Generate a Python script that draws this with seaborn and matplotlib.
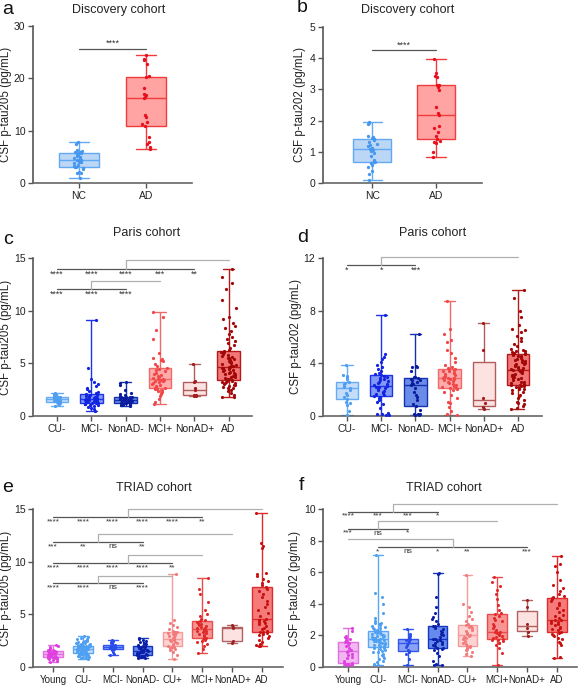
import numpy as np
import pandas as pd
import matplotlib
matplotlib.use("Agg")
import matplotlib.pyplot as plt
import seaborn as sns

sns.set_theme(style="ticks")
plt.rcParams["font.family"] = ["Liberation Sans", "DejaVu Sans"]
np.random.seed(3)

# ---------------- data ----------------
# panel a: Discovery cohort, p-tau205
a_groups = ["NC", "AD"]
a_NC = [0.9, 1.9, 2.0, 2.1, 2.6, 2.9, 3.0, 3.05, 3.3, 3.5, 3.8, 4.0, 4.1, 4.3, 4.45, 4.6, 4.8, 4.9, 5.2, 5.4,
        5.6, 5.66, 5.8, 5.9, 6.0, 6.1, 6.4, 7.4, 7.8]
a_AD = [6.5, 6.8, 7.4, 7.9, 8.8, 10.9, 11.2, 11.6, 12.6, 12.9, 16.2, 16.5, 16.8, 17.0, 18.2, 20.3, 20.5, 22.8,
        23.5, 23.7, 24.4]

# panel b: Discovery cohort, p-tau202
b_NC = [0.11, 0.28, 0.38, 0.50, 0.58, 0.64, 0.66, 0.68, 0.70, 0.73, 0.88, 0.95, 1.02, 1.05, 1.09, 1.12, 1.18,
        1.22, 1.25, 1.33, 1.38, 1.40, 1.42, 1.44, 1.47, 1.50, 1.88, 1.92, 1.94]
b_AD = [0.82, 1.00, 1.28, 1.32, 1.35, 1.40, 1.50, 1.62, 1.75, 1.82, 2.18, 2.25, 2.45, 2.98, 3.08, 3.13, 3.15,
        3.40, 3.42, 3.53, 3.97]

# panel c: Paris cohort, p-tau205
paris_groups = ["CU-", "MCI-", "NonAD-", "MCI+", "NonAD+", "AD"]
c_CUn = [0.95, 1.10, 1.15, 1.22, 1.30, 1.33, 1.40, 1.45, 1.50, 1.55, 1.58, 1.60, 1.62, 1.66, 1.72, 1.80, 1.85,
         1.90, 2.00, 2.10, 2.20]
c_MCIn = [0.50, 0.62, 0.80, 0.90, 0.98, 1.02, 1.08, 1.12, 1.15, 1.18, 1.20, 1.23, 1.28, 1.32, 1.38, 1.42, 1.46,
          1.50, 1.54, 1.57, 1.60, 1.62, 1.65, 1.68, 1.72, 1.75, 1.80, 1.84, 1.88, 1.92, 1.96, 2.00, 2.05, 2.09,
          2.15, 2.25, 2.40, 2.55, 2.70, 2.85, 3.00, 3.20, 3.55, 4.60, 9.10]
c_NonADn = [0.95, 1.00, 1.05, 1.08, 1.10, 1.13, 1.16, 1.19, 1.21, 1.23, 1.28, 1.32, 1.36, 1.40, 1.44, 1.47, 1.50,
            1.53, 1.55, 1.58, 1.60, 1.63, 1.66, 1.70, 1.73, 1.76, 1.78, 1.80, 1.85, 1.92, 2.00, 2.10, 2.20, 2.45,
            2.90, 3.15, 3.26]
c_MCIp = [1.14, 1.30, 1.60, 1.90, 2.10, 2.25, 2.35, 2.45, 2.55, 2.60, 2.65, 2.70, 2.78, 2.85, 2.95, 3.05, 3.12,
          3.20, 3.28, 3.35, 3.40, 3.45, 3.48, 3.55, 3.62, 3.70, 3.80, 3.90, 4.00, 4.10, 4.25, 4.40, 4.50, 4.60,
          4.75, 4.95, 5.20, 5.35, 5.45, 5.55, 6.00, 7.30, 8.20, 9.40, 9.90]
c_NonADp = [1.90, 1.92, 1.96, 2.00, 2.44, 2.62, 3.26, 3.30, 4.94]
c_AD = [1.77, 1.85, 2.00, 2.20, 2.35, 2.50, 2.62, 2.70, 2.78, 2.85, 2.92, 2.98, 3.05, 3.10, 3.15, 3.20, 3.25,
        3.30, 3.35, 3.39, 3.42, 3.48, 3.55, 3.62, 3.68, 3.75, 3.82, 3.88, 3.95, 4.00, 4.06, 4.12, 4.18, 4.25,
        4.32, 4.40, 4.48, 4.55, 4.60, 4.65, 4.68, 4.72, 4.78, 4.85, 4.92, 5.00, 5.08, 5.15, 5.22, 5.30, 5.38,
        5.46, 5.55, 5.62, 5.70, 5.78, 5.86, 5.95, 6.05, 6.12, 6.17, 6.30, 6.50, 6.70, 6.90, 7.10, 7.30, 7.50,
        7.80, 8.10, 8.40, 8.50, 8.80, 9.20, 9.40, 10.30, 11.00, 12.10, 12.60, 13.20, 14.00]

# panel d: Paris cohort, p-tau202
d_CUn = [0.08, 0.40, 0.80, 0.95, 1.10, 1.31, 1.45, 1.60, 1.75, 1.95, 2.10, 2.20, 2.30, 2.40, 2.50, 2.60, 2.80,
         2.95, 3.05, 3.10, 3.84]
d_MCIn = [0.08, 0.10, 0.12, 0.15, 0.20, 0.60, 0.90, 1.10, 1.25, 1.38, 1.46, 1.52, 1.60, 1.68, 1.75, 1.82, 1.90,
          1.98, 2.05, 2.12, 2.18, 2.23, 2.27, 2.35, 2.42, 2.50, 2.58, 2.66, 2.74, 2.82, 2.90, 2.98, 3.06, 3.13,
          3.20, 3.30, 3.45, 3.60, 3.75, 3.85, 4.10, 4.30, 4.50, 4.70, 7.68]
d_NonADn = [0.08, 0.08, 0.10, 0.12, 0.15, 0.18, 0.45, 0.73, 0.90, 1.20, 1.45, 1.60, 1.85, 2.10, 2.32, 2.40, 2.50,
            2.60, 2.70, 2.75, 2.82, 2.88, 2.95, 3.00, 3.40, 3.70, 3.75, 3.80, 6.26]
d_MCIp = [0.08, 0.15, 0.40, 0.70, 1.00, 1.10, 1.40, 1.60, 1.80, 1.95, 2.05, 2.10, 2.15, 2.22, 2.30, 2.38, 2.45,
          2.52, 2.60, 2.66, 2.72, 2.78, 2.82, 2.85, 2.88, 2.92, 2.98, 3.05, 3.12, 3.18, 3.25, 3.30, 3.38, 3.45,
          3.50, 3.55, 3.59, 3.65, 3.75, 3.90, 4.10, 4.40, 4.80, 5.00, 5.60, 5.80, 6.20, 6.60, 8.74]
d_NonADp = [0.56, 0.70, 1.00, 1.38, 5.00, 7.10]
d_AD = [0.56, 0.60, 0.75, 0.90, 1.00, 1.10, 1.25, 1.35, 1.50, 1.62, 1.75, 1.85, 1.95, 2.02, 2.08, 2.14, 2.20,
        2.25, 2.30, 2.34, 2.37, 2.42, 2.48, 2.55, 2.62, 2.70, 2.78, 2.85, 2.92, 2.98, 3.05, 3.10, 3.15, 3.20,
        3.26, 3.32, 3.38, 3.42, 3.46, 3.49, 3.51, 3.56, 3.62, 3.68, 3.74, 3.80, 3.86, 3.92, 3.98, 4.04, 4.10,
        4.16, 4.22, 4.28, 4.34, 4.40, 4.46, 4.52, 4.58, 4.64, 4.70, 4.75, 4.80, 4.85, 4.90, 4.95, 5.00, 5.10,
        5.30, 5.50, 5.70, 5.90, 6.10, 6.40, 6.50, 6.60, 6.90, 7.50, 8.00, 9.00, 9.57]

# panel e: TRIAD cohort, p-tau205
triad_groups = ["Young", "CU-", "MCI-", "NonAD-", "CU+", "MCI+", "NonAD+", "AD"]
e_Young = [0.47, 0.60, 0.68, 0.74, 0.78, 0.82, 0.85, 0.88, 0.90, 0.92, 0.95, 0.98, 1.02, 1.05, 1.08, 1.12, 1.15,
           1.18, 1.20, 1.23, 1.26, 1.30, 1.33, 1.37, 1.41, 1.45, 1.49, 1.52, 1.56, 1.60, 1.65, 1.70, 1.75, 1.80,
           1.88, 1.95, 2.06]
e_CUn = [0.76, 0.82, 0.88, 0.92, 0.96, 1.00, 1.04, 1.08, 1.11, 1.14, 1.17, 1.20, 1.22, 1.24, 1.26, 1.28, 1.29,
         1.30, 1.33, 1.36, 1.39, 1.42, 1.45, 1.48, 1.51, 1.54, 1.57, 1.60, 1.62, 1.64, 1.66, 1.68, 1.69, 1.70,
         1.71, 1.73, 1.75, 1.77, 1.79, 1.81, 1.83, 1.85, 1.87, 1.89, 1.91, 1.93, 1.95, 1.97, 1.99, 2.01, 2.02,
         2.03, 2.06, 2.10, 2.14, 2.18, 2.22, 2.26, 2.30, 2.35, 2.40, 2.45, 2.50, 2.55, 2.62, 2.70, 2.78, 2.88,
         2.97]
e_MCIn = [1.17, 1.20, 1.45, 1.60, 1.68, 1.71, 1.76, 1.82, 1.86, 1.90, 1.93, 1.96, 1.99, 2.03, 2.08, 2.12, 2.18,
          2.25, 2.35, 2.45, 2.53]
e_NonADn = [0.85, 0.88, 0.92, 0.95, 0.98, 1.02, 1.05, 1.08, 1.11, 1.14, 1.19, 1.24, 1.29, 1.34, 1.39, 1.44, 1.48,
            1.52, 1.55, 1.60, 1.65, 1.70, 1.75, 1.80, 1.86, 1.92, 1.98, 2.03, 2.08, 2.14, 2.20, 2.28, 2.36, 2.44,
            2.52, 2.62, 2.72]
e_CUp = [0.79, 1.10, 1.40, 1.60, 1.75, 1.85, 1.90, 1.93, 1.96, 2.05, 2.15, 2.25, 2.35, 2.45, 2.52, 2.60, 2.66,
         2.75, 2.85, 2.95, 3.05, 3.12, 3.18, 3.24, 3.29, 3.35, 3.45, 3.60, 3.80, 4.00, 4.20, 4.50, 8.80]
e_MCIp = [1.33, 1.70, 2.00, 2.20, 2.35, 2.48, 2.58, 2.66, 2.72, 2.78, 2.90, 3.00, 3.10, 3.20, 3.30, 3.38, 3.46,
          3.52, 3.58, 3.66, 3.74, 3.82, 3.90, 4.00, 4.10, 4.20, 4.30, 4.37, 4.45, 4.60, 4.85, 5.05, 5.40, 6.20,
          6.90, 7.40, 8.48]
e_NonADp = [2.25, 2.50, 3.70, 3.80, 4.02]
e_AD = [1.96, 2.00, 2.05, 2.20, 2.40, 2.60, 2.80, 2.95, 3.05, 3.15, 3.22, 3.29, 3.35, 3.45, 3.60, 3.75, 3.90,
        4.05, 4.15, 4.25, 4.35, 4.45, 4.52, 4.80, 5.10, 5.40, 5.70, 6.00, 6.30, 6.60, 6.90, 7.20, 7.45, 7.60,
        7.80, 8.00, 8.20, 8.40, 8.60, 8.80, 8.90, 11.30, 11.50, 11.80, 14.60]

# panel f: TRIAD cohort, p-tau202
f_Young = [0.15, 0.15, 0.16, 0.18, 0.20, 0.22, 0.25, 0.27, 0.40, 0.55, 0.65, 0.75, 0.85, 0.92, 0.99, 1.10, 1.20,
           1.30, 1.40, 1.50, 1.56, 1.61, 1.70, 1.80, 1.85, 1.90, 1.95, 2.25, 2.49]
f_CUn = [0.15, 0.20, 0.30, 0.40, 0.50, 0.60, 0.70, 0.78, 0.85, 0.92, 0.98, 1.04, 1.10, 1.15, 1.19, 1.22, 1.25,
         1.27, 1.30, 1.34, 1.38, 1.42, 1.46, 1.50, 1.53, 1.56, 1.59, 1.62, 1.65, 1.68, 1.71, 1.73, 1.75, 1.77,
         1.78, 1.80, 1.83, 1.86, 1.89, 1.92, 1.95, 1.98, 2.01, 2.04, 2.07, 2.10, 2.13, 2.16, 2.19, 2.22, 2.25,
         2.28, 2.32, 2.38, 2.44, 2.50, 2.56, 2.62, 2.68, 2.72, 2.76, 2.80, 2.90, 3.10, 3.40, 4.00, 4.40, 4.70,
         7.08]
f_MCIn = [0.15, 0.50, 0.80, 0.95, 1.01, 1.10, 1.25, 1.40, 1.54, 1.62, 1.68, 1.75, 1.80, 1.85, 1.95, 2.10, 2.43]
f_NonADn = [0.15, 0.15, 0.18, 0.40, 0.70, 0.90, 1.05, 1.12, 1.18, 1.23, 1.30, 1.38, 1.45, 1.52, 1.58, 1.65, 1.70,
            1.75, 1.80, 1.90, 2.00, 2.10, 2.20, 2.30, 2.40, 2.50, 2.58, 2.62, 2.75, 2.90, 3.05, 3.15, 3.40, 3.80,
            4.40, 5.90, 5.98]
f_CUp = [0.72, 0.80, 0.95, 1.05, 1.12, 1.20, 1.25, 1.30, 1.35, 1.45, 1.55, 1.65, 1.75, 1.82, 1.90, 1.95, 2.00,
         2.08, 2.15, 2.25, 2.35, 2.45, 2.52, 2.58, 2.64, 2.75, 2.90, 3.05, 3.20, 3.50, 3.80, 4.00, 5.81]
f_MCIp = [0.15, 0.90, 1.20, 1.40, 1.50, 1.55, 1.62, 1.68, 1.74, 1.78, 1.85, 1.92, 1.98, 2.04, 2.10, 2.15, 2.19,
          2.22, 2.24, 2.35, 2.50, 2.62, 2.75, 2.88, 3.00, 3.12, 3.25, 3.34, 3.40, 3.60, 3.90, 4.30, 4.60, 4.90,
          5.10, 5.40, 5.70]
f_NonADp = [1.97, 2.20, 2.45, 2.70, 3.80, 4.25]
f_AD = [0.59, 0.65, 1.40, 1.50, 1.60, 1.75, 1.85, 1.95, 2.05, 2.12, 2.18, 2.24, 2.32, 2.40, 2.48, 2.56, 2.64,
        2.72, 2.80, 2.86, 2.92, 2.96, 3.00, 3.10, 3.20, 3.30, 3.45, 3.60, 3.75, 3.90, 4.05, 4.18, 4.30, 4.38,
        4.45, 4.50, 4.60, 4.80, 5.00, 5.20, 5.50, 6.00, 6.40, 6.50, 7.04]

# significance annotations: (span from, span to, line y, hook x, hook top, hook to, star y, star positions, stars)
a_sig = [(0, 1, 25.7, None, None, None, 26.7, [0.5], ["****"])]
b_sig = [(0, 1, 4.26, None, None, None, 4.43, [0.5], ["****"])]
c_sig = [(0, 4, 14.0, 2, 14.8, 5, 13.5, [0, 1, 2, 3, 4], ["****", "****", "****", "***", "**"]),
         (0, 2, 12.1, 1, 12.8, 3, 11.6, [0, 1, 2], ["****", "****", "****"])]
d_sig = [(0, 2, 11.5, 1, 12.1, 5, 11.05, [0, 1, 2], ["*", "*", "***"])]
e_sig = [(0, 5, 14.2, 2.5, 15.0, 7, 13.8, [0, 1, 2, 3, 4, 5], ["****", "****", "****", "****", "****", "**"]),
         (0, 3, 11.87, 1.5, 12.6, 6, 11.45, [0, 1, 2, 3], ["***", "**", "ns", "**"]),
         (0, 4, 9.84, 2.5, 10.6, 5, 9.42, [0, 1, 2, 3, 4], ["****", "****", "****", "****", "**"]),
         (0, 3, 7.94, 1.5, 8.67, 4, 7.52, [0, 1, 2, 3], ["****", "****", "ns", "****"])]
f_sig = [(0, 3, 9.81, 1.5, 10.3, 7, 9.54, [0, 1, 2, 3], ["****", "***", "***", "*"]),
         (0, 2, 8.73, 1, 9.26, 5, 8.46, [0, 1, 2], ["***", "ns", "*"]),
         (1, 6, 7.57, 3.5, 8.1, 0, 7.3, [1, 2, 3, 4, 6], ["*", "ns", "*", "**", "***"])]

# ---------------- colours ----------------
disc_fill = ["#bcd7f6", "#ffa3a3"]
disc_edge = ["#62a8f2", "#f03c3c"]
disc_dot = ["#4597f0", "#e8101c"]

paris_fill = ["#c6ddf9", "#8399f6", "#6a8be8", "#ffabab", "#fde2e2", "#f27777"]
paris_edge = ["#64acf5", "#1c35e6", "#1431b0", "#f06a6a", "#b35c5c", "#b51a1a"]
paris_dot = ["#4f9ef2", "#1224e2", "#0a1c9e", "#f04848", "#a31c1c", "#a30808"]

triad_fill = ["#f2b6f2", "#c4ddfa", "#8aa2f6", "#6589ec", "#ffd2d2", "#f79595", "#fde2e2", "#f57a7a"]
triad_edge = ["#e070e0", "#5aa8f5", "#3357ee", "#1436c0", "#f49c9c", "#ea4c4c", "#b06262", "#e02c2c"]
triad_dot = ["#e040e0", "#4fa0f2", "#2a4ce8", "#0c1fa8", "#f27a7a", "#e02a2a", "#9e2020", "#c81010"]


def draw_groups(ax, groups, vals, fills, edges, dots, width, jit_k, jit_cap, dot_size):
    df = pd.DataFrame({
        "group": np.repeat(groups, [len(v) for v in vals]),
        "value": np.concatenate([np.asarray(v, float) for v in vals]),
    })
    for g, fc, ec, dc in zip(groups, fills, edges, dots):
        sub = df[df["group"] == g]
        sns.boxplot(data=sub, x="group", y="value", order=groups, color=fc, linecolor=ec,
                    linewidth=1.0, width=width, whis=(0, 100), saturation=1, showfliers=False,
                    ax=ax, zorder=1)
        sns.stripplot(data=sub, x="group", y="value", order=groups, color=dc, size=dot_size,
                      jitter=min(jit_cap, jit_k * len(sub)), linewidth=0, ax=ax, zorder=3)


def style(ax, xlim, ylim, yticks, ylabel, lab_x, tick_fs):
    ax.set_xlim(*xlim)
    ax.set_ylim(*ylim)
    ax.set_yticks(yticks)
    ax.set_xlabel("")
    ax.set_ylabel(ylabel, fontsize=8.3, color="#222")
    ax.yaxis.set_label_coords(lab_x, 0.5)
    for s in ["top", "right"]:
        ax.spines[s].set_visible(False)
    ax.spines["left"].set_color("#555")
    ax.spines["bottom"].set_color("#666")
    ax.spines["left"].set_linewidth(1.2)
    ax.spines["bottom"].set_linewidth(1.2)
    ax.tick_params(axis="both", length=3.5, width=1, color="#555", labelsize=tick_fs, pad=2,
                   labelcolor="#222")


def significance(ax, specs, fs):
    for x0, x1, y, hx, htop, hto, sy, pos, stars in specs:
        ax.plot([x0, x1], [y, y], color="#555", lw=0.9, clip_on=False, zorder=5)
        if hx is not None:
            ax.plot([hx, hx, hto], [y, htop, htop], color="#b0b0b0", lw=0.9, clip_on=False, zorder=5)
        for p, s in zip(pos, stars):
            ax.text(p, sy, s, ha="center", va="center", fontsize=fs, color="#333", zorder=6)


W, H = 578, 685
fig = plt.figure(figsize=(W / 100, H / 100), dpi=100)


def add_ax(left, right, top, bottom):
    return fig.add_axes([left / W, 1 - bottom / H, (right - left) / W, (bottom - top) / H])


ax_a = add_ax(33, 192, 26, 183)
ax_b = add_ax(323, 482, 27, 183)
ax_c = add_ax(33, 252, 258, 416)
ax_d = add_ax(323, 542, 258, 416)
ax_e = add_ax(33, 283, 509, 667)
ax_f = add_ax(323, 577, 509, 667)

draw_groups(ax_a, a_groups, [a_NC, a_AD], disc_fill, disc_edge, disc_dot, 0.6, 0.003, 0.08, 2.4)
style(ax_a, (-0.69, 1.69), (0, 30), [0, 10, 20, 30], "CSF p-tau205 (pg/mL)", -0.13, 7.5)
significance(ax_a, a_sig, 6.5)

draw_groups(ax_b, a_groups, [b_NC, b_AD], disc_fill, disc_edge, disc_dot, 0.6, 0.003, 0.08, 2.4)
style(ax_b, (-0.77, 1.72), (0, 5), [0, 1, 2, 3, 4, 5], "CSF p-tau202 (pg/mL)", -0.105, 7.5)
significance(ax_b, b_sig, 6.5)

draw_groups(ax_c, paris_groups, [c_CUn, c_MCIn, c_NonADn, c_MCIp, c_NonADp, c_AD],
            paris_fill, paris_edge, paris_dot, 0.66, 0.005, 0.22, 2.3)
style(ax_c, (-0.7, 5.68), (0, 15), [0, 5, 10, 15], "CSF p-tau205 (pg/mL)", -0.095, 7.5)
significance(ax_c, c_sig, 6.3)

draw_groups(ax_d, paris_groups, [d_CUn, d_MCIn, d_NonADn, d_MCIp, d_NonADp, d_AD],
            paris_fill, paris_edge, paris_dot, 0.66, 0.005, 0.22, 2.3)
style(ax_d, (-0.7, 5.7), (0, 12), [0, 4, 8, 12], "CSF p-tau202 (pg/mL)", -0.097, 7.5)
significance(ax_d, d_sig, 6.3)

draw_groups(ax_e, triad_groups, [e_Young, e_CUn, e_MCIn, e_NonADn, e_CUp, e_MCIp, e_NonADp, e_AD],
            triad_fill, triad_edge, triad_dot, 0.66, 0.005, 0.24, 2.2)
style(ax_e, (-0.67, 7.7), (0, 15), [0, 5, 10, 15], "CSF p-tau205 (pg/mL)", -0.083, 7.0)
ax_e.tick_params(axis="y", labelsize=7.5)
significance(ax_e, e_sig, 6.0)

draw_groups(ax_f, triad_groups, [f_Young, f_CUn, f_MCIn, f_NonADn, f_CUp, f_MCIp, f_NonADp, f_AD],
            triad_fill, triad_edge, triad_dot, 0.66, 0.005, 0.24, 2.2)
style(ax_f, (-0.84, 7.67), (0, 10), [0, 2, 4, 6, 8, 10], "CSF p-tau202 (pg/mL)", -0.085, 7.0)
ax_f.tick_params(axis="y", labelsize=7.5)
significance(ax_f, f_sig, 6.0)

# titles and panel letters
titles = [(119, 10, "Discovery cohort"), (408, 10, "Discovery cohort"), (147, 233, "Paris cohort"),
          (433, 233, "Paris cohort"), (154, 488, "TRIAD cohort"), (444, 488, "TRIAD cohort")]
for x, y, t in titles:
    fig.text(x / W, 1 - y / H, t, ha="center", va="center", fontsize=9, color="#222")

letters = [(2, 9, "a"), (297, 8, "b"), (3, 239, "c"), (297, 238, "d"), (2, 487, "e"), (299, 486, "f")]
for x, y, t in letters:
    fig.text(x / W, 1 - y / H, t, ha="left", va="center", fontsize=14, color="#111")

fig.savefig("out.png", dpi=100)
